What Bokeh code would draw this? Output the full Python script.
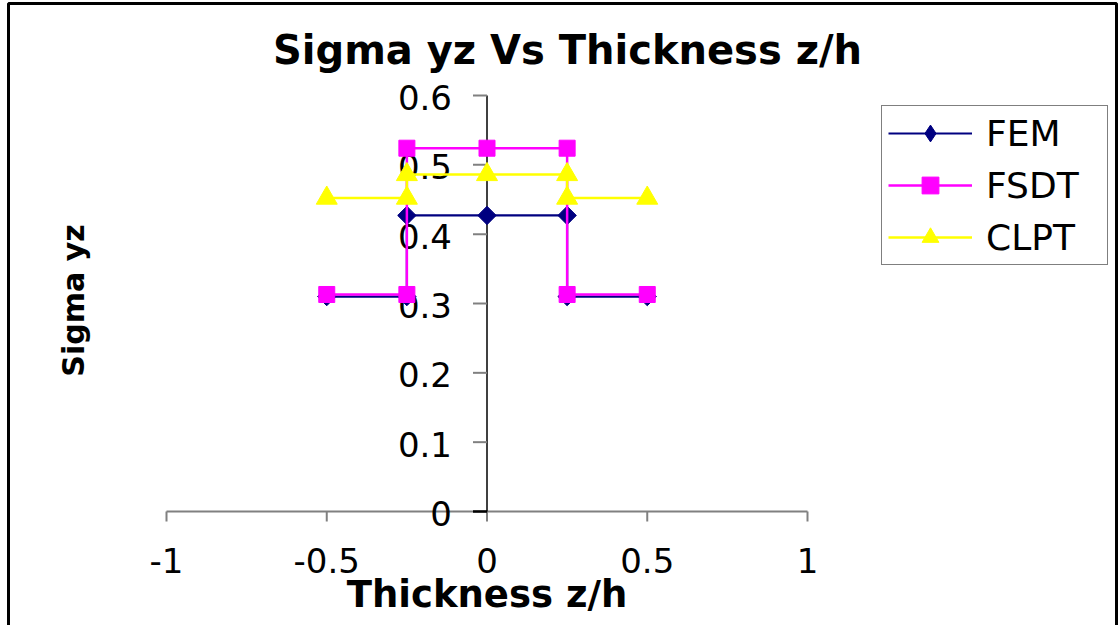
import numpy as np
from bokeh.plotting import figure
from bokeh.models import Range1d, Legend, LegendItem, BoxAnnotation
from bokeh.core.properties import value
from bokeh.embed import file_html
from bokeh.resources import INLINE

# ---- data ----
z = [-0.5, -0.25, -0.25, 0.0, 0.25, 0.25, 0.5]
fem = [0.310, 0.310, 0.427, 0.427, 0.427, 0.310, 0.310]
fsdt = [0.313, 0.313, 0.524, 0.524, 0.524, 0.313, 0.313]
clpt = [0.452, 0.452, 0.486, 0.486, 0.486, 0.452, 0.452]
series_names = ["FEM", "FSDT", "CLPT"]
x_ticks = [-1, -0.5, 0, 0.5, 1]
x_tick_labels = ["-1", "-0.5", "0", "0.5", "1"]
y_ticks = [0, 0.1, 0.2, 0.3, 0.4, 0.5, 0.6]
y_tick_labels = ["0", "0.1", "0.2", "0.3", "0.4", "0.5", "0.6"]
title_text = "Sigma yz Vs Thickness z/h"
x_title = "Thickness z/h"
y_title = "Sigma yz"

# ---- layout (pixels) ----
W, H = 1120, 625
PX_L, PX_R = 166, 807      # pixel of x_ticks[0], x_ticks[-1]
PY_B, PY_T = 511, 95       # pixel of y_ticks[0], y_ticks[-1]
FONT = "DejaVu Sans"

sx = (PX_R - PX_L) / (x_ticks[-1] - x_ticks[0])
sy = (PY_B - PY_T) / (y_ticks[-1] - y_ticks[0])
x_start = x_ticks[0] - PX_L / sx
x_end = x_start + W / sx
y_start = y_ticks[0] - (H - PY_B) / sy
y_end = y_start + H / sy


def dx(px):
    return x_start + px / sx


def dy(py):
    return y_end - py / sy


p = figure(width=W, height=H, output_backend="svg", toolbar_location=None,
           x_range=Range1d(x_start, x_end), y_range=Range1d(y_start, y_end),
           x_axis_location=None, y_axis_location=None, min_border=0,
           background_fill_color="white", border_fill_color="white")
p.outline_line_color = None
p.grid.visible = False

# chart border
p.add_layout(BoxAnnotation(left=dx(8), right=dx(1116), top=dy(3), bottom=dy(700),
                           fill_color=None, fill_alpha=0, line_color="black",
                           line_alpha=1, line_width=3))

# title
p.text(x=[dx(567)], y=[dy(49)], text=[title_text], text_align="center",
       text_baseline="alphabetic", text_font=value(FONT), text_font_style="bold",
       text_font_size="40px", text_color="black")

# x axis
x0, x1 = x_ticks[0], x_ticks[-1]
p.segment(x0=[x0], y0=[y_ticks[0]], x1=[x1], y1=[y_ticks[0]], line_color="#808080", line_width=2)
p.ray(x=x_ticks, y=[y_ticks[0]] * len(x_ticks), length=10, length_units="screen",
      angle=-np.pi / 2, line_color="#808080", line_width=2)
p.text(x=x_ticks, y=[y_ticks[0]] * len(x_ticks), text=x_tick_labels, y_offset=49,
       text_align="center", text_baseline="alphabetic", text_font=value(FONT),
       text_font_size="34px", text_color="black")
p.text(x=[0.5 * (x0 + x1)], y=[dy(594)], text=[x_title], text_align="center",
       text_baseline="alphabetic", text_font=value(FONT), text_font_style="bold",
       text_font_size="37px", text_color="black")

# y axis at x = 0
p.text(x=[0] * len(y_ticks), y=y_ticks, text=y_tick_labels, x_offset=-35, y_offset=2,
       text_align="right", text_baseline="alphabetic", text_font=value(FONT),
       text_font_size="34px", text_color="black")
p.segment(x0=[0], y0=[y_ticks[0]], x1=[0], y1=[y_ticks[-1]], line_color="black", line_width=1.5)
p.ray(x=[0] * len(y_ticks[1:]), y=y_ticks[1:], length=14, length_units="screen", angle=np.pi,
      line_color="#808080", line_width=2)
p.ray(x=[0], y=[y_ticks[0]], length=14, length_units="screen", angle=np.pi,
      line_color="black", line_width=2.5)
p.text(x=[dx(73)], y=[dy(300)], text=[y_title], angle=np.pi / 2, text_align="center",
       text_baseline="middle", text_font=value(FONT), text_font_style="bold",
       text_font_size="30px", text_color="black")

# series
fem_l = p.line(z, fem, line_color="#000080", line_width=2.2)
fem_m = p.scatter(z, fem, marker="square", angle=np.pi / 4, size=13,
                  fill_color="#000080", line_color="#000080")
# legend-only diamond glyph (no visible point in the plot)
fem_key = p.scatter([np.nan], [np.nan], marker="diamond", size=13,
                    fill_color="#000080", line_color="#000080")
fsdt_l = p.line(z, fsdt, line_color="#FF00FF", line_width=2.5)
fsdt_m = p.scatter(z, fsdt, marker="square", size=16, fill_color="#FF00FF", line_color="#FF00FF")
clpt_l = p.line(z, clpt, line_color="#FFFF00", line_width=2.5)
clpt_m = p.scatter(z, clpt, marker="triangle", size=21, fill_color="#FFFF00", line_color="#FFFF00")

legend = Legend(items=[
    LegendItem(label=series_names[0], renderers=[fem_l, fem_key]),
    LegendItem(label=series_names[1], renderers=[fsdt_l, fsdt_m]),
    LegendItem(label=series_names[2], renderers=[clpt_l, clpt_m]),
], location=(881, H - 265))
legend.border_line_color = "black"
legend.border_line_width = 1.5
legend.background_fill_color = "white"
legend.background_fill_alpha = 1
legend.label_text_font = FONT
legend.label_text_font_size = "36px"
legend.label_text_color = "black"
legend.glyph_width = 84
legend.glyph_height = 42
legend.label_height = 42
legend.label_width = 115
legend.label_standoff = 14
legend.spacing = 10
legend.padding = 6
legend.margin = 0
p.add_layout(legend, "center")

open("out.html", "w").write(file_html(p, INLINE))
